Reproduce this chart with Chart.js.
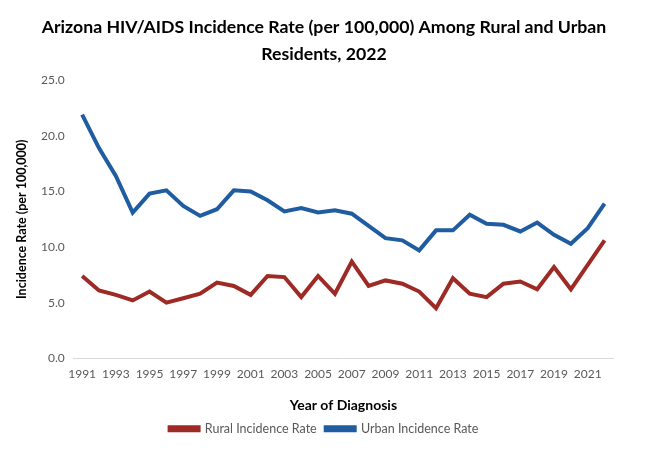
<!DOCTYPE html>
<html>
<head>
<meta charset="utf-8">
<script src="https://cdn.jsdelivr.net/npm/chart.js@4.4.1/dist/chart.umd.min.js"></script>
<style>
  html, body { margin: 0; padding: 0; background: #fff; }
  #wrap { width: 648px; height: 459px; }
</style>
</head>
<body>
<div id="wrap"><canvas id="chart" width="648" height="459"></canvas></div>
<script>
// years of diagnosis
const years = [1991, 1992, 1993, 1994, 1995, 1996, 1997, 1998, 1999, 2000,
  2001, 2002, 2003, 2004, 2005, 2006, 2007, 2008, 2009, 2010,
  2011, 2012, 2013, 2014, 2015, 2016, 2017, 2018, 2019, 2020,
  2021, 2022];

// incidence rate per 100,000
const rural = [7.4, 6.1, 5.7, 5.2, 6.0, 5.0, 5.4, 5.8, 6.8, 6.5,
  5.7, 7.4, 7.3, 5.5, 7.4, 5.8, 8.7, 6.5, 7.0, 6.7,
  6.0, 4.5, 7.2, 5.8, 5.5, 6.7, 6.9, 6.2, 8.2, 6.2,
  8.4, 10.6];
const urban = [21.9, 18.9, 16.4, 13.1, 14.8, 15.1, 13.7, 12.8, 13.4, 15.1,
  15.0, 14.2, 13.2, 13.5, 13.1, 13.3, 13.0, 11.9, 10.8, 10.6,
  9.7, 11.5, 11.5, 12.9, 12.1, 12.0, 11.4, 12.2, 11.1, 10.3,
  11.7, 13.9];

const yTicks = [0, 5, 10, 15, 20, 25];

const RED = '#9D2A24';
const BLUE = '#1F5CA0';
const FONT = 'Lato, "Open Sans", sans-serif';

const ctx = document.getElementById('chart').getContext('2d');

new Chart(ctx, {
  type: 'line',
  data: {
    labels: years,
    datasets: [
      {
        label: 'Rural Incidence Rate',
        data: rural,
        borderColor: RED,
        backgroundColor: RED,
        borderWidth: 4,
        pointRadius: 0,
        tension: 0
      },
      {
        label: 'Urban Incidence Rate',
        data: urban,
        borderColor: BLUE,
        backgroundColor: BLUE,
        borderWidth: 4,
        pointRadius: 0,
        tension: 0
      }
    ]
  },
  options: {
    responsive: false,
    animation: false,
    layout: { padding: { left: 0, right: 0, top: 0, bottom: 14 } },
    plugins: {
      title: {
        display: true,
        text: ['Arizona HIV/AIDS Incidence Rate (per 100,000) Among Rural and Urban',
               'Residents, 2022'],
        color: '#000',
        font: { family: FONT, size: 17.7, weight: 'bold', lineHeight: 1.53 },
        padding: { top: 14, bottom: 12 }
      },
      legend: {
        position: 'bottom',
        labels: {
          color: '#595959',
          font: { family: FONT, size: 12.5 },
          boxWidth: 29,
          boxHeight: 3,
          padding: 9
        }
      },
      tooltip: { enabled: false }
    },
    scales: {
      x: {
        offset: true,
        grid: { display: false, drawTicks: false },
        border: { display: true, color: '#D9D9D9', width: 1 },
        ticks: {
          autoSkip: false,
          maxRotation: 0,
          color: '#595959',
          font: { family: FONT, size: 12 },
          padding: 9,
          callback: function (value, index) {
            return index % 2 === 0 ? years[index] : '';
          }
        },
        title: {
          display: true,
          text: 'Year of Diagnosis',
          color: '#000',
          font: { family: FONT, size: 14, weight: 'bold' },
          padding: { top: 6, bottom: 0 }
        }
      },
      y: {
        min: 0,
        max: 25,
        afterBuildTicks: function (axis) {
          axis.ticks = yTicks.map(v => ({ value: v }));
        },
        grid: { display: false, drawTicks: false },
        border: { display: false },
        ticks: {
          color: '#595959',
          font: { family: FONT, size: 12 },
          padding: 9,
          callback: v => v.toFixed(1)
        },
        title: {
          display: true,
          text: 'Incidence Rate (per 100,000)',
          color: '#000',
          font: { family: FONT, size: 12.5, weight: 'bold' },
          padding: { top: 14, bottom: 3 }
        }
      },
      // empty right-hand axis that only keeps space free beside the plot
      spacer: {
        type: 'linear',
        position: 'right',
        display: true,
        grid: { display: false, drawTicks: false },
        border: { display: false },
        ticks: { display: false },
        afterFit: function (axis) { axis.width = 35; }
      }
    }
  }
});
</script>
</body>
</html>
